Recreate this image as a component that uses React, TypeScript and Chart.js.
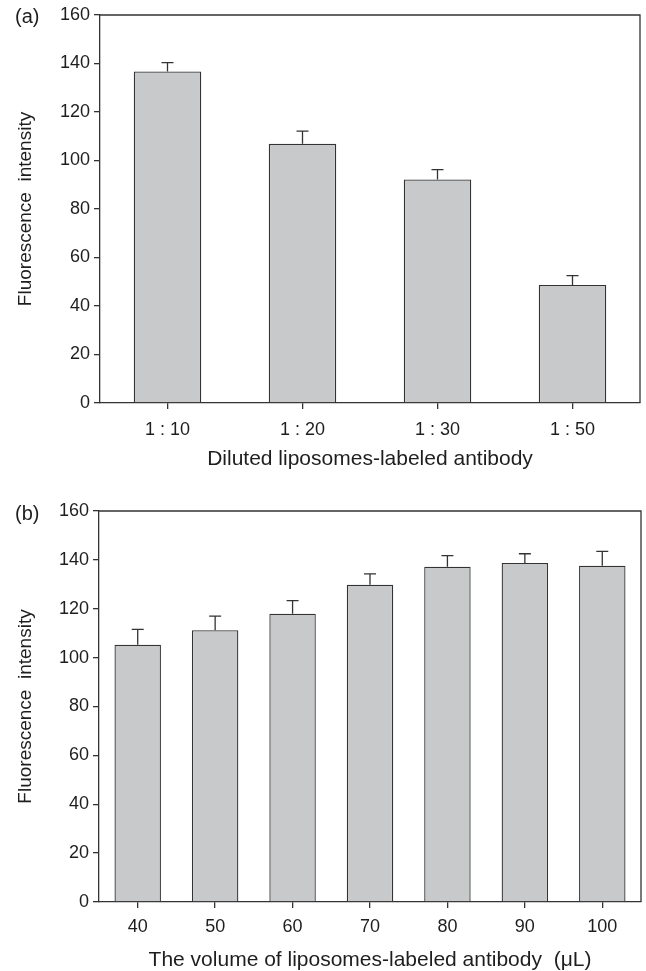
import React, { useEffect, useRef } from "react";
import { Chart, registerables } from "chart.js";

Chart.register(...registerables);

// ---- data ----
const dilutionLabels = ["1 : 10", "1 : 20", "1 : 30", "1 : 50"];
const dilutionValues = [136.7, 106.9, 92.2, 48.7];
const dilutionErrors = [3.7, 5.2, 4.0, 3.8];

const volumeLabels = ["40", "50", "60", "70", "80", "90", "100"];
const volumeValues = [105.3, 111.2, 118.0, 129.8, 137.2, 138.7, 137.6];
const volumeErrors = [6.3, 5.8, 5.3, 4.5, 4.5, 3.8, 5.9];

const yMin = 0;
const yMax = 160;
const yStep = 20;

const yTitle = "Fluorescence  intensity";
const xTitleA = "Diluted liposomes-labeled antibody";
const xTitleB = "The volume of liposomes-labeled antibody  (\u03bcL)";

// ---- styles ----
const FONT = "Arial, 'Liberation Sans', Helvetica, sans-serif";
const LINE = "#333333";
const TEXT = "#1e1e1e";
const BAR = "#c8c9cb";
const LW = 1.3;

const errorFramePlugin = {
  id: "errorFrame",
  afterDatasetsDraw(chart: any) {
    const { ctx, chartArea, scales } = chart;
    const y = scales.y;
    ctx.save();
    ctx.strokeStyle = LINE;
    ctx.lineWidth = LW;
    chart.data.datasets.forEach((ds: any, di: number) => {
      const meta = chart.getDatasetMeta(di);
      meta.data.forEach((bar: any, i: number) => {
        const v = ds.data[i];
        const e = ds.errors ? ds.errors[i] : 0;
        const yTop = y.getPixelForValue(v + e);
        const x = bar.x;
        ctx.beginPath();
        ctx.moveTo(x, bar.y);
        ctx.lineTo(x, yTop);
        ctx.moveTo(x - 6, yTop);
        ctx.lineTo(x + 6, yTop);
        ctx.stroke();
      });
    });
    ctx.beginPath();
    ctx.moveTo(chartArea.left, chartArea.top);
    ctx.lineTo(chartArea.right, chartArea.top);
    ctx.lineTo(chartArea.right, chartArea.bottom);
    ctx.stroke();
    ctx.restore();
  },
};

type PanelProps = {
  top: number;
  height: number;
  labels: string[];
  values: number[];
  errors: number[];
  xTitle: string;
  barPct: number;
  padTop: number;
  padRight: number;
  yWidth: number;
  xHeight: number;
  xTickPad: number;
  xTitlePad: number;
};

function Panel(p: PanelProps) {
  const ref = useRef<HTMLCanvasElement | null>(null);
  useEffect(() => {
    if (!ref.current) return;
    const chart = new Chart(ref.current, {
      type: "bar",
      data: {
        labels: p.labels,
        datasets: [
          {
            data: p.values,
            errors: p.errors,
            backgroundColor: BAR,
            borderColor: LINE,
            borderWidth: LW,
            barPercentage: p.barPct,
            categoryPercentage: 1,
          } as any,
        ],
      },
      options: {
        responsive: false,
        animation: false,
        devicePixelRatio: 1,
        layout: { padding: { top: p.padTop, right: p.padRight, left: 0, bottom: 0 } },
        plugins: {
          legend: { display: false },
          tooltip: { enabled: false },
        },
        scales: {
          x: {
            offset: true,
            grid: {
              offset: false,
              drawOnChartArea: false,
              drawTicks: true,
              tickLength: 6,
              color: LINE,
              lineWidth: LW,
            },
            border: { display: true, color: LINE, width: LW },
            ticks: {
              color: TEXT,
              font: { family: FONT, size: 18 },
              padding: p.xTickPad,
              maxRotation: 0,
              autoSkip: false,
            },
            title: {
              display: true,
              text: p.xTitle,
              color: TEXT,
              font: { family: FONT, size: 21, lineHeight: 1 },
              padding: { top: 0, bottom: p.xTitlePad },
            },
            afterFit: (scale: any) => {
              scale.height = p.xHeight;
            },
          },
          y: {
            min: yMin,
            max: yMax,
            grid: {
              drawOnChartArea: false,
              drawTicks: true,
              tickLength: 6,
              color: LINE,
              lineWidth: LW,
            },
            border: { display: true, color: LINE, width: LW },
            ticks: {
              stepSize: yStep,
              color: TEXT,
              font: { family: FONT, size: 18 },
              padding: 4,
            },
            title: {
              display: true,
              text: yTitle,
              color: TEXT,
              font: { family: FONT, size: 19 },
              padding: { top: 14, bottom: 0 },
            },
            afterFit: (scale: any) => {
              scale.width = p.yWidth;
            },
          },
        },
      } as any,
      plugins: [errorFramePlugin],
    });
    return () => chart.destroy();
  }, []);
  return (
    <canvas
      ref={ref}
      width={646}
      height={p.height}
      style={{ position: "absolute", left: 0, top: p.top, width: 646, height: p.height }}
    />
  );
}

const panelLabelStyle: React.CSSProperties = {
  position: "absolute",
  left: 15,
  fontFamily: FONT,
  fontSize: 20,
  lineHeight: "20px",
  color: TEXT,
};

export default function App() {
  return (
    <div
      style={{
        position: "absolute",
        left: 0,
        top: 0,
        width: 646,
        height: 971,
        background: "#ffffff",
        overflow: "hidden",
      }}
    >
      <Panel
        top={0}
        height={485}
        labels={dilutionLabels}
        values={dilutionValues}
        errors={dilutionErrors}
        xTitle={xTitleA}
        barPct={0.5}
        padTop={15}
        padRight={6}
        yWidth={100}
        xHeight={82}
        xTickPad={10}
        xTitlePad={15.5}
      />
      <Panel
        top={485}
        height={486}
        labels={volumeLabels}
        values={volumeValues}
        errors={volumeErrors}
        xTitle={xTitleB}
        barPct={0.6}
        padTop={26}
        padRight={5}
        yWidth={99}
        xHeight={69}
        xTickPad={8}
        xTitlePad={0}
      />
      <div style={{ ...panelLabelStyle, top: 6 }}>(a)</div>
      <div style={{ ...panelLabelStyle, top: 503 }}>(b)</div>
    </div>
  );
}
